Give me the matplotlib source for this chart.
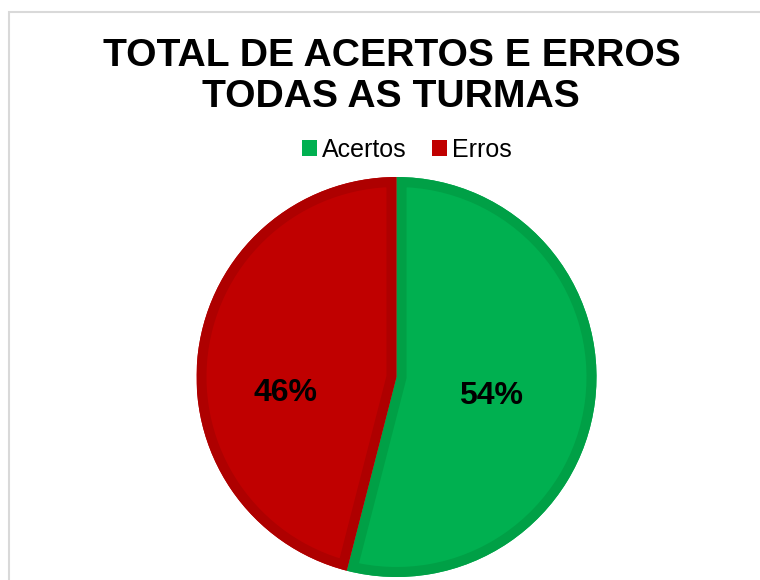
import matplotlib
matplotlib.use('Agg')
import matplotlib.pyplot as plt
from matplotlib.patches import Patch, Rectangle, Wedge

plt.rcParams['font.family'] = ['Liberation Sans', 'DejaVu Sans']

# Dados
rotulos = ['Acertos', 'Erros']
valores = [54, 46]
cores = ['#00B050', '#C00000']
cores_borda = ['#00A046', '#AE0000']

W, H = 760, 580
fig = plt.figure(figsize=(W / 100, H / 100), dpi=100)

# moldura cinza clara
fig.patches.append(Rectangle((8.5 / W, -0.1), 1.2, 1.1 - 11.5 / H, transform=fig.transFigure,
                             fill=False, edgecolor='#D9D9D9', linewidth=1.5))

# titulo
fig.text(392 / W, 1 - 66 / H, 'TOTAL DE ACERTOS E ERROS', ha='center', va='baseline',
         fontsize=28.2, fontweight='bold')
fig.text(391 / W, 1 - 107 / H, 'TODAS AS TURMAS', ha='center', va='baseline',
         fontsize=28.2, fontweight='bold')

# pizza
ax = fig.add_axes([196.5 / W, 3 / H, 400 / W, 400 / H])
fatias, textos, autotextos = ax.pie(valores, colors=cores, startangle=90, counterclock=False,
                                    autopct='%1.0f%%', pctdistance=0.48,
                                    wedgeprops=dict(linewidth=0),
                                    textprops=dict(fontsize=23, fontweight='bold', color='black'))
# borda interna mais escura em cada fatia
for w, cb in zip(fatias, cores_borda):
    borda = Wedge(w.center, w.r, w.theta1, w.theta2, facecolor='none', edgecolor=cb,
                  linewidth=14.4, zorder=w.get_zorder() + 0.1)
    ax.add_patch(borda)
    borda.set_clip_path(w)
ax.set_xlim(-1, 1)
ax.set_ylim(-1, 1)
ax.axis('off')

# posicao dos rotulos como no Excel
autotextos[0].set_position((0.475, -0.095))
autotextos[1].set_position((-0.555, -0.082))

# legenda
handles = [Patch(facecolor=c, edgecolor='none') for c in cores]
fig.legend(handles, rotulos, loc='center', bbox_to_anchor=(407 / W, 1 - 150 / H), ncol=2,
           frameon=False, fontsize=18, handlelength=0.6, handleheight=0.6,
           handletextpad=0.2, columnspacing=1.0, borderpad=0, borderaxespad=0)

fig.savefig('out.png', dpi=100, facecolor='white')
